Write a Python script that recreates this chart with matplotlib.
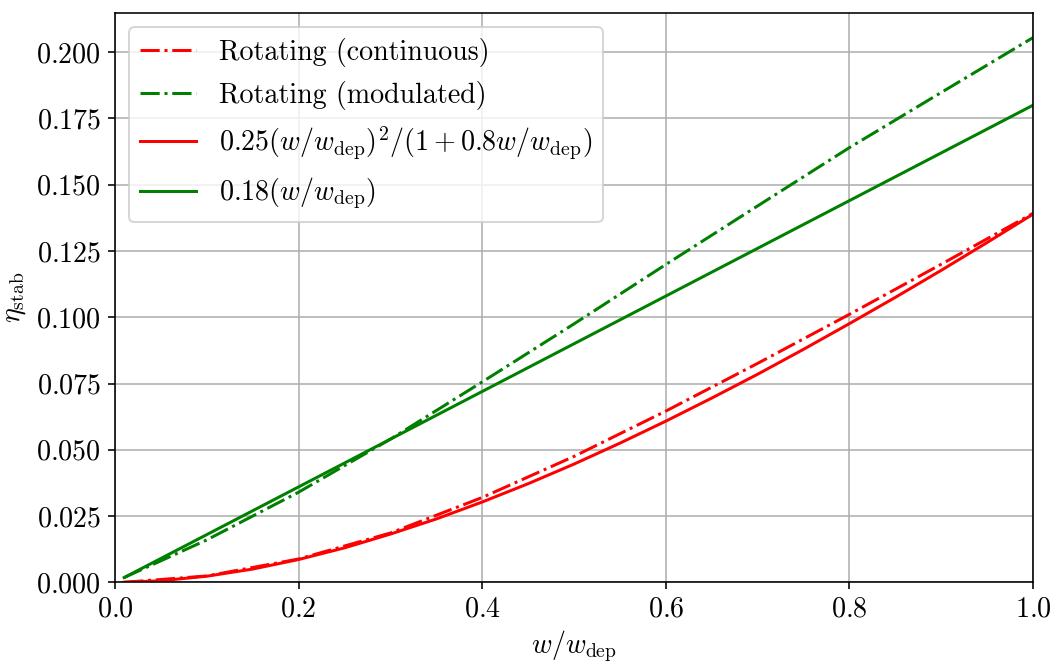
import numpy as np
import matplotlib
matplotlib.use("Agg")
import matplotlib.pyplot as plt

# LaTeX-like look without a TeX install
plt.rcParams["font.family"] = "serif"
plt.rcParams["font.serif"] = ["cmr10"]
plt.rcParams["mathtext.fontset"] = "cm"
plt.rcParams["axes.formatter.use_mathtext"] = True
plt.rcParams["font.size"] = 14

# values
w_rot = [0.01, 0.1, 0.2, 0.3, 0.4, 0.5, 0.6, 0.7, 0.8, 0.9, 1.0]
eta_cont = [0.0000, 0.0024, 0.0088, 0.0186, 0.0320, 0.0475, 0.0646,
            0.0826, 0.1011, 0.1200, 0.1392]
eta_mod = [0.0018, 0.0160, 0.0340, 0.0540, 0.0756, 0.0975, 0.1199,
           0.1420, 0.1640, 0.1848, 0.2055]

w_fit = [0.01, 0.05, 0.1, 0.15, 0.2, 0.25, 0.3, 0.35, 0.4, 0.45, 0.5,
         0.55, 0.6, 0.65, 0.7, 0.75, 0.8, 0.85, 0.9, 0.95, 1.0]
eta_fit_cont = [0.00002, 0.0006, 0.0023, 0.0050, 0.0086, 0.0130, 0.0182,
                0.0239, 0.0303, 0.0372, 0.0446, 0.0525, 0.0608, 0.0695,
                0.0785, 0.0879, 0.0976, 0.1075, 0.1177, 0.1282, 0.1389]

w_lin = [0.01, 1.0]
eta_fit_mod = [0.0018, 0.18]

fig = plt.figure(figsize=(1053/144, 663/144), dpi=144)
ax = fig.add_axes([0.1092, 0.1217, 0.8718, 0.8587])

ax.plot(w_rot, eta_cont, "r-.", label="Rotating (continuous)")
ax.plot(w_rot, eta_mod, "g-.", label="Rotating (modulated)")
ax.plot(w_fit, eta_fit_cont, "r-",
        label=r"$0.25(w/w_{\rm dep})^2/(1+0.8w/w_{\rm dep})$")
ax.plot(w_lin, eta_fit_mod, "g-", label=r"$0.18(w/w_{\rm dep})$")

ax.set_xlim(0, 1.0)
ax.set_ylim(0, 0.2148)
ax.set_yticks(np.arange(0, 0.201, 0.025))
ax.grid(True)

ax.set_xlabel(r"$w/w_{\rm dep}$", labelpad=3)
ax.set_ylabel(r"$\eta_{\rm stab}$")
ax.legend(loc="upper left")

fig.savefig("out.png", dpi=144)
